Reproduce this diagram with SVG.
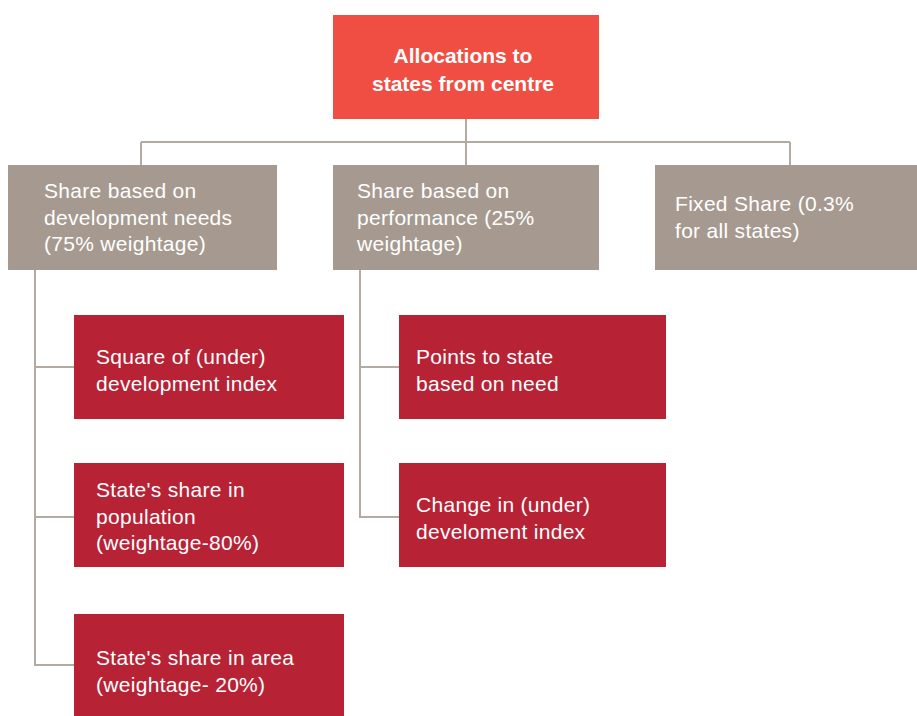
<svg xmlns="http://www.w3.org/2000/svg" width="917" height="716" viewBox="0 0 917 716">
<style>
.t{font-family:"Liberation Sans",Arial,sans-serif;font-size:21px;fill:#ffffff;letter-spacing:0.3px}
.title{font-family:"Liberation Sans",Arial,sans-serif;font-size:21px;font-weight:bold;fill:#ffffff;text-anchor:middle}
.top{fill:#f04e42}
.grey{fill:#a69a90}
.red{fill:#b82235}
.conn{fill:none;stroke:#b3aaa2;stroke-width:2}
</style>
<rect width="917" height="716" fill="#ffffff"/>
<g id="connectors">
<path class="conn" d="M466 119V165M141 142H790M141 142V165M790 142V165"/>
<path class="conn" d="M35 270V665H74M35 367H74M35 517H74"/>
<path class="conn" d="M360 270V517H399M360 367H399"/>
</g>
<g id="root">
<rect class="top" x="333" y="15" width="266" height="104"/>
<text class="title" x="463" y="63">Allocations to</text>
<text class="title" x="463" y="91">states from centre</text>
</g>
<g id="dev-needs">
<rect class="grey" x="8" y="165" width="269" height="105"/>
<text class="t" x="44" y="198">Share based on</text>
<text class="t" x="44" y="224.5">development needs</text>
<text class="t" x="44" y="251">(75% weightage)</text>
</g>
<g id="performance">
<rect class="grey" x="333" y="165" width="266" height="105"/>
<text class="t" x="357" y="198">Share based on</text>
<text class="t" x="357" y="224.5">performance (25%</text>
<text class="t" x="357" y="251">weightage)</text>
</g>
<g id="fixed">
<rect class="grey" x="655" y="165" width="262" height="105"/>
<text class="t" x="675" y="211">Fixed Share (0.3%</text>
<text class="t" x="675" y="237.5">for all states)</text>
</g>
<g id="square-index">
<rect class="red" x="74" y="315" width="270" height="104"/>
<text class="t" x="96" y="364">Square of (under)</text>
<text class="t" x="96" y="390.5">development index</text>
</g>
<g id="population">
<rect class="red" x="74" y="463" width="270" height="104"/>
<text class="t" x="96" y="497">State's share in</text>
<text class="t" x="96" y="523.5">population</text>
<text class="t" x="96" y="550">(weightage-80%)</text>
</g>
<g id="area">
<rect class="red" x="74" y="614" width="270" height="102"/>
<text class="t" x="96" y="665">State's share in area</text>
<text class="t" x="96" y="691.5">(weightage- 20%)</text>
</g>
<g id="points">
<rect class="red" x="399" y="315" width="267" height="104"/>
<text class="t" x="416" y="364">Points to state</text>
<text class="t" x="416" y="390.5">based on need</text>
</g>
<g id="change">
<rect class="red" x="399" y="463" width="267" height="104"/>
<text class="t" x="416" y="512">Change in (under)</text>
<text class="t" x="416" y="538.5">develoment index</text>
</g>
</svg>
